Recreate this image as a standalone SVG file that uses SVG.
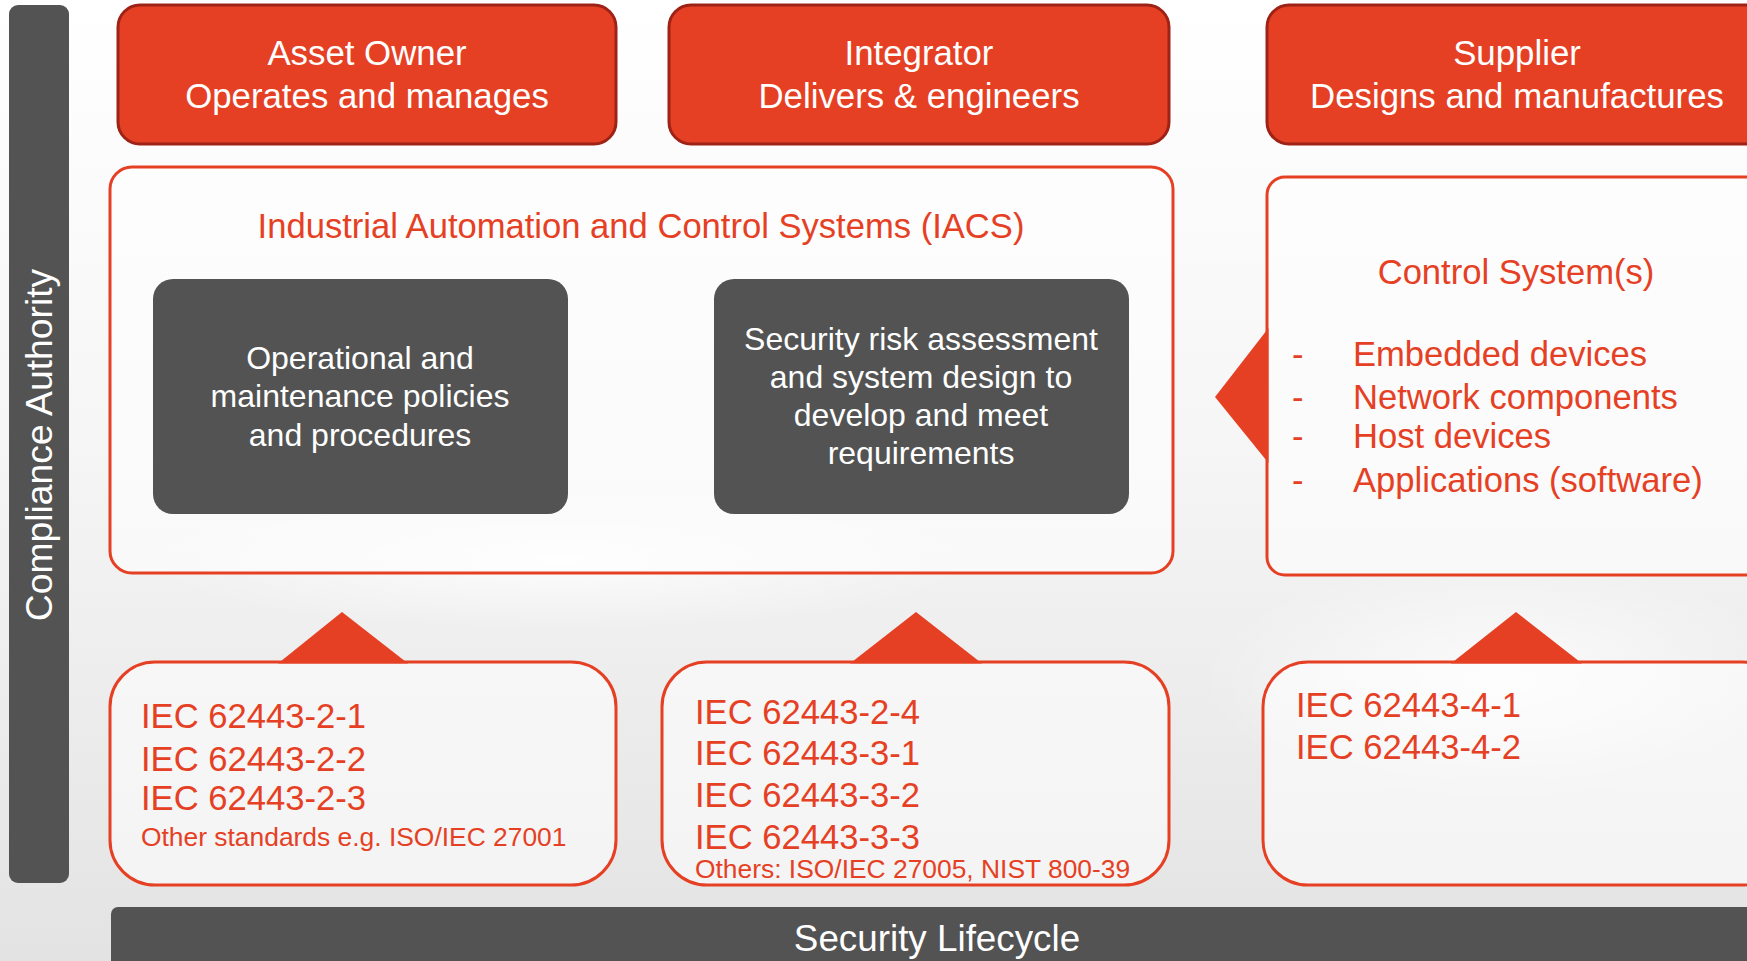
<svg xmlns="http://www.w3.org/2000/svg" width="1747" height="961" viewBox="0 0 1747 961">
<defs>
<linearGradient id="bg" x1="0" y1="0" x2="0" y2="1">
<stop offset="0" stop-color="#ffffff"/>
<stop offset="0.45" stop-color="#f6f6f6"/>
<stop offset="1" stop-color="#e3e3e3"/>
</linearGradient>
<radialGradient id="glow" cx="0.5" cy="0.5" r="0.5">
<stop offset="0" stop-color="#ffffff" stop-opacity="0.8"/>
<stop offset="1" stop-color="#ffffff" stop-opacity="0"/>
</radialGradient>
</defs>
<style>
text{font-family:"Liberation Sans",Arial,Helvetica,sans-serif}
.role{fill:#e64024;stroke:#9e2316;stroke-width:3}
.roleT{fill:#ffffff;font-size:34.8px;text-anchor:middle}
.frame{fill:#ffffff;fill-opacity:0.55;stroke:#e64024;stroke-width:3}
.dark{fill:#525352}
.darkT{fill:#ffffff;font-size:32px;text-anchor:middle}
.red{fill:#e64024}
.redT{fill:#e64024;font-size:34.6px}
.small{fill:#e64024;font-size:26.4px}
.barT{fill:#ffffff;font-size:36.8px;text-anchor:middle}
</style>
<rect x="0" y="0" width="1747" height="961" fill="url(#bg)"/>
<ellipse cx="560" cy="560" rx="420" ry="70" fill="url(#glow)"/>
<ellipse cx="1500" cy="680" rx="300" ry="120" fill="url(#glow)"/>

<g id="compliance-authority">
<rect x="9" y="5" width="60" height="878" rx="9" class="dark"/>
<text class="barT" style="font-size:37.3px" transform="translate(52,445) rotate(-90)">Compliance Authority</text>
</g>

<g id="asset-owner">
<rect x="118" y="5" width="498" height="139" rx="22" class="role"/>
<text class="roleT" x="367" y="65">Asset Owner</text>
<text class="roleT" x="367" y="108">Operates and manages</text>
</g>
<g id="integrator">
<rect x="669" y="5" width="500" height="139" rx="22" class="role"/>
<text class="roleT" x="919" y="65">Integrator</text>
<text class="roleT" x="919" y="108">Delivers &amp; engineers</text>
</g>
<g id="supplier">
<rect x="1267" y="5" width="500" height="139" rx="22" class="role"/>
<text class="roleT" x="1517" y="65">Supplier</text>
<text class="roleT" x="1517" y="108">Designs and manufactures</text>
</g>

<g id="iacs">
<rect x="110" y="167" width="1063" height="406" rx="22" class="frame"/>
<text class="redT" x="641" y="238" text-anchor="middle">Industrial Automation and Control Systems (IACS)</text>
</g>
<g id="operational-policies">
<rect x="153" y="279" width="415" height="235" rx="20" class="dark"/>
<text class="darkT" x="360" y="369">Operational and</text>
<text class="darkT" x="360" y="407">maintenance policies</text>
<text class="darkT" x="360" y="446">and procedures</text>
</g>
<g id="risk-assessment">
<rect x="714" y="279" width="415" height="235" rx="20" class="dark"/>
<text class="darkT" x="921" y="350">Security risk assessment</text>
<text class="darkT" x="921" y="388">and system design to</text>
<text class="darkT" x="921" y="426">develop and meet</text>
<text class="darkT" x="921" y="464">requirements</text>
</g>

<g id="control-systems">
<rect x="1267" y="177" width="520" height="398" rx="18" class="frame"/>
<text class="redT" x="1516" y="284" text-anchor="middle">Control System(s)</text>
<text class="redT" x="1292" y="366">-</text>
<text class="redT" x="1353" y="366">Embedded devices</text>
<text class="redT" x="1292" y="409">-</text>
<text class="redT" x="1353" y="409">Network components</text>
<text class="redT" x="1292" y="448">-</text>
<text class="redT" x="1353" y="448">Host devices</text>
<text class="redT" x="1292" y="492">-</text>
<text class="redT" x="1353" y="492">Applications (software)</text>
</g>

<g id="standards-asset-owner">
<rect x="110" y="662" width="506" height="223" rx="45" class="frame"/>
<text class="redT" x="141" y="728">IEC 62443-2-1</text>
<text class="redT" x="141" y="771">IEC 62443-2-2</text>
<text class="redT" x="141" y="810">IEC 62443-2-3</text>
<text class="small" x="141" y="846">Other standards e.g. ISO/IEC 27001</text>
</g>
<g id="standards-integrator">
<rect x="662" y="662" width="507" height="223" rx="45" class="frame"/>
<text class="redT" x="695" y="724">IEC 62443-2-4</text>
<text class="redT" x="695" y="765">IEC 62443-3-1</text>
<text class="redT" x="695" y="807">IEC 62443-3-2</text>
<text class="redT" x="695" y="849">IEC 62443-3-3</text>
<text class="small" x="695" y="878">Others: ISO/IEC 27005, NIST 800-39</text>
</g>
<g id="standards-supplier">
<rect x="1263" y="662" width="524" height="223" rx="45" class="frame"/>
<text class="redT" x="1296" y="717">IEC 62443-4-1</text>
<text class="redT" x="1296" y="759">IEC 62443-4-2</text>
</g>

<g id="connectors">
<polygon class="red" points="278,663.5 342,612 408,663.5"/>
<polygon class="red" points="850,663.5 916,612 982,663.5"/>
<polygon class="red" points="1451,663.5 1516,612 1582,663.5"/>
<polygon class="red" points="1268.5,328 1215,397 1268.5,463"/>
</g>

<g id="security-lifecycle">
<rect x="111" y="907" width="1660" height="70" rx="7" class="dark"/>
<text class="barT" x="937" y="951">Security Lifecycle</text>
</g>
</svg>
